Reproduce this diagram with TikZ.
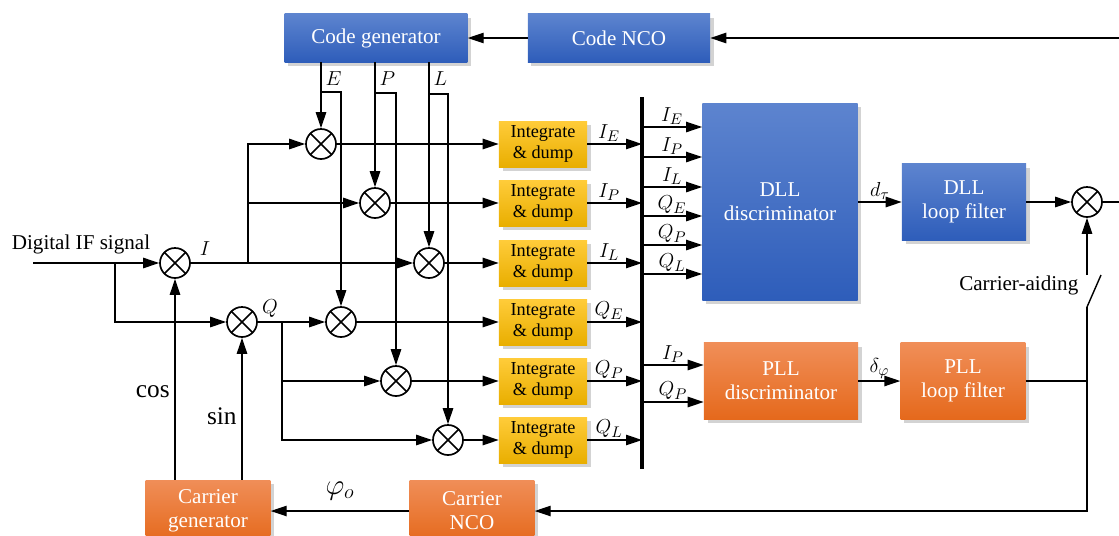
\documentclass[tikz,border=0pt]{standalone}
\usepackage{fontspec}
\setmainfont{Liberation Serif}
\usetikzlibrary{positioning, arrows.meta, calc, shadows}
\definecolor{dlltop}{HTML}{5D84CF}
\definecolor{dllbot}{HTML}{2E5DBA}
\definecolor{plltop}{HTML}{F08E58}
\definecolor{pllbot}{HTML}{E5691C}
\definecolor{inttop}{HTML}{FFCC3A}
\definecolor{intbot}{HTML}{E9AE00}
\newcommand{\blkfont}{\fontsize{15}{17}\selectfont}
\newcommand{\intfont}{\fontsize{13}{15.5}\selectfont}
\newcommand{\csfont}{\fontsize{18}{20}\selectfont}
\tikzset{
  sig/.style={line width=1pt, -{Triangle[length=4mm, width=2.6mm]}},
  wire/.style={line width=1pt},
  blk/.style={inner sep=2pt, align=center, text=white, font=\blkfont,
              drop shadow={shadow xshift=2.5pt, shadow yshift=-2.5pt, opacity=.35}},
  dllblk/.style={blk, top color=dlltop, bottom color=dllbot},
  pllblk/.style={blk, top color=plltop, bottom color=pllbot},
  intblk/.style={blk, text=black, font=\intfont, top color=inttop, bottom color=intbot,
                 minimum width=2.2cm, minimum height=1.15cm},
  mixer/.style={circle, draw, line width=1.2pt, minimum size=0.75cm, inner sep=0pt,
                path picture={\draw[line width=1.2pt]
                  (path picture bounding box.north west) -- (path picture bounding box.south east)
                  (path picture bounding box.north east) -- (path picture bounding box.south west);}},
  tag/.style={font=\fontsize{15.5}{17}\selectfont, inner sep=1pt},
  txt/.style={font=\blkfont, inner sep=1pt}
}
\begin{document}
\begin{tikzpicture}[x=0.025cm, y=-0.025cm]
  \useasboundingbox (0,0) rectangle (1119,535);

  % code loop blocks
  \node[dllblk, minimum width=4.57cm, minimum height=1.2cm] (codegen) at (376,38) {Code generator};
  \node[dllblk, minimum width=4.55cm, minimum height=1.2cm] (codenco) at (619,38) {Code NCO};
  \node[dllblk, minimum width=3.88cm, minimum height=4.93cm] (dlldisc) at (780,202) {DLL\\discriminator};
  \node[dllblk, minimum width=3.1cm, minimum height=1.9cm] (dllfilt) at (964,202) {DLL\\loop filter};
  \node[pllblk, minimum width=3.85cm, minimum height=1.9cm] (plldisc) at (781,381) {PLL\\discriminator};
  \node[pllblk, minimum width=3.12cm, minimum height=1.9cm] (pllfilt) at (963,381) {PLL\\loop filter};
  \node[pllblk, minimum width=3.12cm, minimum height=1.55cm] (cargen) at (208,511) {Carrier\\generator};
  \node[pllblk, minimum width=3.12cm, minimum height=1.55cm] (carnco) at (472,511) {Carrier\\NCO};

  % correlators
  \foreach \n/\y in {1/144, 2/203, 3/263, 4/322, 5/381, 6/440}
    \node[intblk] (id\n) at (543,\y) {Integrate\\\& dump};

  \node[mixer] (mI)  at (175,263) {};
  \node[mixer] (mQ)  at (242,322) {};
  \node[mixer] (mIE) at (321,144) {};
  \node[mixer] (mIP) at (375,203) {};
  \node[mixer] (mIL) at (429,263) {};
  \node[mixer] (mQE) at (341,322) {};
  \node[mixer] (mQP) at (396,381) {};
  \node[mixer] (mQL) at (448,440) {};
  \node[mixer] (mAid) at (1087,202) {};

  \coordinate (inL) at (33,263);
  \coordinate (brIQ) at (115,263);
  \coordinate (iSplit) at (248,263);
  \coordinate (qSplit) at (282,322);
  \coordinate (eTap) at (321,92);
  \coordinate (pTap) at (375,93);
  \coordinate (lTap) at (429,94);
  \coordinate (busTop) at (642,97);
  \coordinate (busBot) at (642,469);
  \coordinate (swTop) at (1087,275);
  \coordinate (swBot) at (1087,307);
  \coordinate (swBlade) at (1101,275);
  \coordinate (edgeTop) at (1119,38);
  \coordinate (edgeMid) at (1119,202);
  \coordinate (joinPll) at (1087,381);

  % carrier wipe-off
  \node[txt] (lblIF) at (81,244) {Digital IF signal};
  \draw[sig] (inL) -- (mI);
  \draw[sig] (brIQ) |- (mQ);
  \draw[sig] (cargen.north -| mI) -- node[pos=0.44, left, font=\csfont] {cos} (mI);
  \draw[sig] (cargen.north -| mQ) -- node[pos=0.45, left, font=\csfont] {sin} (mQ);
  \node[tag] at (205,249) {$I$};
  \node[tag] at (270,309) {$Q$};

  % I and Q branches
  \draw[sig] (mI) -- (mIL);
  \draw[sig] (iSplit) |- (mIE);
  \draw[sig] (iSplit) |- (mIP);
  \draw[sig] (mQ) -- (mQE);
  \draw[sig] (qSplit) |- (mQP);
  \draw[sig] (qSplit) |- (mQL);

  % early, prompt, late replicas
  \draw[sig] (codegen.south -| mIE) -- (mIE);
  \draw[sig] (codegen.south -| mIP) -- (mIP);
  \draw[sig] (codegen.south -| mIL) -- (mIL);
  \draw[sig] (eTap) -| (mQE);
  \draw[sig] (pTap) -| (mQP);
  \draw[sig] (lTap) -| (mQL);
  \node[tag, anchor=west] at (324,79) {$E$};
  \node[tag, anchor=west] at (378,79) {$P$};
  \node[tag, anchor=west] at (432,79) {$L$};

  \draw[sig] (mIE) -- (id1);
  \draw[sig] (mIP) -- (id2);
  \draw[sig] (mIL) -- (id3);
  \draw[sig] (mQE) -- (id4);
  \draw[sig] (mQP) -- (id5);
  \draw[sig] (mQL) -- (id6);

  % bus
  \draw[line width=2.2pt] (busTop) -- (busBot);
  \foreach \n/\t in {1/I_E, 2/I_P, 3/I_L, 4/Q_E, 5/Q_P, 6/Q_L}
    \draw[sig] (id\n) -- node[tag, above, xshift=-4pt] {$\t$} (id\n -| busTop);
  \foreach \y/\t in {127/I_E, 157/I_P, 187/I_L, 216/Q_E, 245/Q_P, 274/Q_L}
    \draw[sig] (busTop |- 0,\y) -- node[tag, above] {$\t$} (dlldisc.west |- 0,\y);
  \foreach \y/\t in {365/I_P, 402/Q_P}
    \draw[sig] (busTop |- 0,\y) -- node[tag, above] {$\t$} (plldisc.west |- 0,\y);

  % loops
  \draw[sig] (dlldisc.east |- dllfilt) -- node[tag, above] {$d_\tau$} (dllfilt);
  \draw[sig] (plldisc) -- node[tag, above] {$\delta_\varphi$} (pllfilt);
  \draw[sig] (dllfilt) -- (mAid);
  \draw[wire] (mAid) -- (edgeMid);
  \draw[sig] (edgeTop) -- (codenco);
  \draw[sig] (codenco) -- (codegen);
  \draw[sig] (swTop) -- (mAid);
  \draw[wire] (swBot) -- (swBlade);
  \node[txt, anchor=east] at (1080,285) {Carrier-aiding};
  \draw[wire] (pllfilt) -- (joinPll);
  \draw[sig] (swBot) |- (carnco);
  \draw[sig] (carnco) -- node[above=4pt, font=\fontsize{21}{23}\selectfont] {$\varphi_o$} (cargen);
\end{tikzpicture}
\end{document}
